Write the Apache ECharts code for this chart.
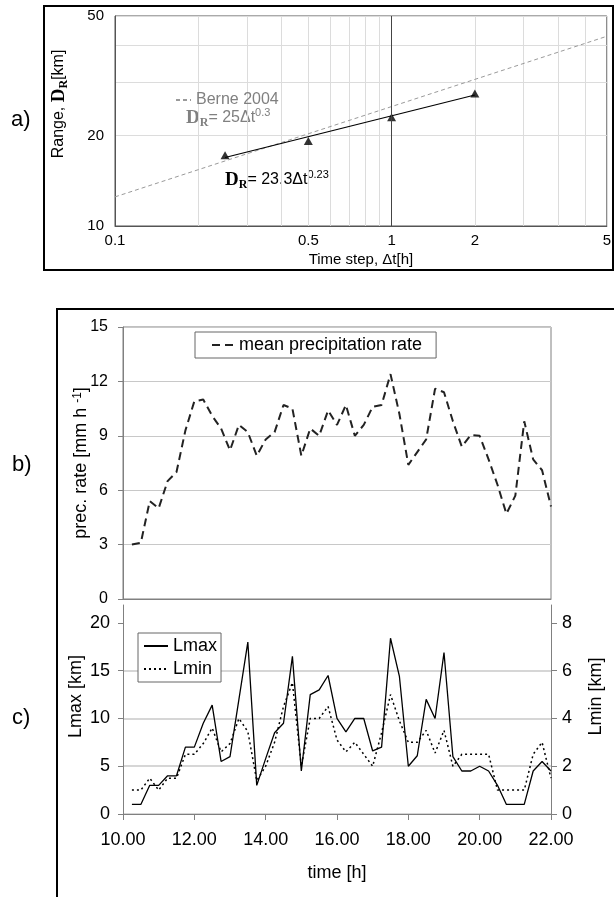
<!DOCTYPE html>
<html><head><meta charset="utf-8">
<script src="https://cdn.jsdelivr.net/npm/echarts@6/dist/echarts.min.js"></script>
<style>html,body{margin:0;padding:0;background:#fff}#c{width:614px;height:897px}</style>
</head><body><div id="c"></div>
<script>
// ---------- Panel a: range vs time step (log-log) ----------
const stepHours = [0.25, 0.5, 1, 2];
const rangeKm = [17.2, 19.2, 23.0, 27.6];
const fitStep = [0.25, 2];
const fitRange = [16.9, 27.3];
const berneStep = [0.1, 6];
const berneRange = [12.5, 42.8];
const aXTickValues = [0.1, 0.2, 0.3, 0.4, 0.5, 0.6, 0.7, 0.8, 0.9, 1, 2, 3, 4, 5, 6];
const aXLabelValues = [0.1, 0.5, 1, 2, 6];
const aXLabelTexts = ['0.1', '0.5', '1', '2', '5'];
const aYTickValues = [10, 20, 30, 40, 50];
const aYLabelValues = [10, 20, 50];

// ---------- Panels b, c: time series ----------
const times = [10.25, 10.5, 10.75, 11, 11.25, 11.5, 11.75, 12, 12.25, 12.5, 12.75, 13,
  13.25, 13.5, 13.75, 14, 14.25, 14.5, 14.75, 15, 15.25, 15.5, 15.75, 16,
  16.25, 16.5, 16.75, 17, 17.25, 17.5, 17.75, 18, 18.25, 18.5, 18.75, 19,
  19.25, 19.5, 19.75, 20, 20.25, 20.5, 20.75, 21, 21.25, 21.5, 21.75, 22];
const precipRate = [3.0, 3.1, 5.4, 5.0, 6.5, 7.0, 9.3, 10.9, 11.0, 10.1, 9.4, 8.2,
  9.6, 9.2, 7.9, 8.8, 9.2, 10.7, 10.5, 7.9, 9.4, 9.0, 10.4, 9.6,
  10.7, 9.0, 9.6, 10.6, 10.7, 12.4, 10.2, 7.4, 8.1, 8.8, 11.6, 11.4,
  9.8, 8.4, 9.05, 9.0, 7.7, 6.3, 4.7, 5.7, 9.8, 7.7, 7.1, 5.1];
const lmax = [1, 1, 3, 3, 4, 4, 7, 7, 9.5, 11.4, 5.5, 6,
  12, 18, 3, 5.8, 8.5, 9.5, 16.5, 4.5, 12.5, 13, 14.5, 10,
  8.6, 10, 10, 6.6, 7, 18.4, 14.4, 5, 6.1, 12, 10, 16.9,
  6, 4.5, 4.5, 5, 4.5, 3, 1, 1, 1, 4.5, 5.5, 4.5];
const lmin = [1, 1, 1.5, 1, 1.5, 1.5, 2.5, 2.5, 2.95, 3.6, 2.6, 2.95,
  4, 3.45, 1.4, 2, 3, 4.5, 5.5, 2, 4, 4, 4.5, 3.1,
  2.6, 3, 2.5, 2, 3.4, 5, 3.9, 3, 3, 3.5, 2.55, 3.5,
  2, 2.5, 2.5, 2.5, 2.5, 1, 1, 1, 1, 2.5, 3, 1.5];
const lmaxTicks = [0, 5, 10, 15, 20];
const lminTicks = [0, 2, 4, 6, 8];

const SANS = "'Liberation Sans', Arial, sans-serif";
const SERIF = "'Liberation Serif', 'Times New Roman', serif";

const chart = echarts.init(document.getElementById('c'), null, {renderer: 'canvas'});

const formulaRich = (col) => ({
  D: {fontFamily: SERIF, fontWeight: 'bold', fontSize: 19, fill: col, color: col, lineHeight: 22, verticalAlign: 'middle'},
  R: {fontFamily: SERIF, fontWeight: 'bold', fontSize: 12, fill: col, color: col, verticalAlign: 'bottom', lineHeight: 14},
  t: {fontFamily: SANS, fontSize: 16, fill: col, color: col, lineHeight: 22, verticalAlign: 'middle'},
  s: {fontFamily: SANS, fontSize: 11, fill: col, color: col, verticalAlign: 'top', lineHeight: 11}
});
const noSymbol = {color: 'rgba(0,0,0,0)', borderColor: 'rgba(0,0,0,0)', borderWidth: 0, opacity: 0};

const option = {
  animation: false,
  backgroundColor: '#fff',
  textStyle: {fontFamily: SANS},
  grid: [
    {left: 115, top: 16, width: 492, height: 210, show: true, borderColor: '#555', borderWidth: 1},
    {left: 123, top: 327, width: 428, height: 272, show: true, borderColor: '#808080', borderWidth: 1},
    {left: 123, top: 605, width: 428, height: 209}
  ],
  legend: [
    {data: ['Berne 2004'], left: 175, top: 92, itemWidth: 15, itemHeight: 10, itemGap: 4,
      itemStyle: noSymbol,
      textStyle: {color: '#808080', fontSize: 16, fontFamily: SANS}, padding: 0},
    {data: ['mean precipitation rate'], left: 195, top: 332, itemWidth: 22, itemHeight: 10, itemGap: 5,
      itemStyle: noSymbol,
      borderColor: '#666', borderWidth: 1, backgroundColor: '#fff', padding: [4, 14, 4, 16],
      textStyle: {color: '#000', fontSize: 18, fontFamily: SANS}},
    {data: ['Lmax', 'Lmin'], orient: 'vertical', left: 138, top: 633, itemWidth: 24, itemHeight: 14, itemGap: 5,
      itemStyle: noSymbol,
      borderColor: '#666', borderWidth: 1, backgroundColor: '#fff', padding: [4, 4, 4, 5],
      textStyle: {color: '#000', fontSize: 18, fontFamily: SANS}}
  ],
  xAxis: [
    {type: 'log', gridIndex: 0, min: 0.1, max: 6,
      axisLine: {show: true, lineStyle: {color: '#555'}},
      axisTick: {show: false, customValues: aXTickValues},
      splitLine: {show: true, lineStyle: {color: '#dcdcdc', width: 1}},
      axisLabel: {customValues: aXLabelValues, margin: 7, fontSize: 15, color: '#000', fontFamily: SANS,
        formatter: (v) => { const i = aXLabelValues.findIndex(x => Math.abs(x - v) < 1e-6); return i >= 0 ? aXLabelTexts[i] : ''; }},
      name: 'Time step, Δt[h]', nameLocation: 'middle', nameGap: 26, nameMoveOverlap: false,
      nameTextStyle: {fontSize: 15, color: '#000', fontFamily: SANS}},
    {type: 'value', gridIndex: 1, min: 10, max: 22, interval: 2,
      axisLine: {show: true, lineStyle: {color: '#808080'}}, axisTick: {show: false},
      axisLabel: {show: false}, splitLine: {show: false}},
    {type: 'value', gridIndex: 2, min: 10, max: 22, interval: 2,
      axisLine: {show: true, lineStyle: {color: '#808080'}},
      axisTick: {show: true, length: 6, lineStyle: {color: '#808080'}},
      axisLabel: {fontSize: 18, color: '#000', margin: 17, fontFamily: SANS, formatter: (v) => v.toFixed(2)},
      splitLine: {show: false},
      name: 'time [h]', nameLocation: 'middle', nameGap: 50, nameMoveOverlap: false,
      nameTextStyle: {fontSize: 18, color: '#000', fontFamily: SANS}}
  ],
  yAxis: [
    {type: 'log', gridIndex: 0, min: 10, max: 50,
      axisLine: {show: true, lineStyle: {color: '#555'}},
      axisTick: {show: false, customValues: aYTickValues},
      splitLine: {show: true, lineStyle: {color: '#dcdcdc'}},
      axisLabel: {customValues: aYLabelValues, margin: 11, fontSize: 15, color: '#000', fontFamily: SANS},
      name: '{t|Range, }{D|D}{R|R}{t|[km]}', nameLocation: 'middle', nameGap: 45, nameRotate: 90, nameMoveOverlap: false,
      nameTextStyle: {padding: [0, 0, 0, 34], rich: formulaRich('#000')}},
    {type: 'value', gridIndex: 1, min: 0, max: 15, interval: 3,
      axisLine: {show: true, lineStyle: {color: '#808080'}},
      axisTick: {show: true, length: 5, lineStyle: {color: '#808080'}},
      splitLine: {show: true, lineStyle: {color: '#c8c8c8'}},
      axisLabel: {fontSize: 16, color: '#000', margin: 15, fontFamily: SANS},
      name: 'prec. rate [mm h {s|-1}]', nameLocation: 'middle', nameGap: 33, nameRotate: 90, nameMoveOverlap: false,
      nameTextStyle: {fontSize: 18, color: '#000', fontFamily: SANS,
        rich: {s: {fontSize: 12, verticalAlign: 'top', fontFamily: SANS, color: '#000'}}}},
    {type: 'value', gridIndex: 2, min: 0, max: 21.88,
      axisLine: {show: true, lineStyle: {color: '#808080'}},
      axisTick: {show: true, length: 5, customValues: lmaxTicks, lineStyle: {color: '#808080'}},
      splitLine: {show: true, showMaxLine: false, lineStyle: {color: '#c8c8c8', width: 1.5}},
      axisLabel: {customValues: lmaxTicks, fontSize: 18, color: '#000', margin: 13, fontFamily: SANS},
      name: 'Lmax [km]', nameLocation: 'middle', nameGap: 38, nameRotate: 90, nameMoveOverlap: false,
      nameTextStyle: {fontSize: 18, color: '#000', fontFamily: SANS, padding: [0, 0, 0, 26]}},
    {type: 'value', gridIndex: 2, min: 0, max: 8.75, position: 'right',
      axisLine: {show: true, lineStyle: {color: '#808080'}},
      axisTick: {show: true, length: 6, customValues: lminTicks, lineStyle: {color: '#808080'}},
      splitLine: {show: false},
      axisLabel: {customValues: lminTicks, fontSize: 18, color: '#000', margin: 11, fontFamily: SANS},
      name: 'Lmin [km]', nameLocation: 'middle', nameGap: 36, nameRotate: 90, nameMoveOverlap: false,
      nameTextStyle: {fontSize: 18, color: '#000', fontFamily: SANS, padding: [0, 0, 0, 26]}}
  ],
  series: [
    {name: 'Berne 2004', type: 'line', xAxisIndex: 0, yAxisIndex: 0, symbol: 'none', silent: true,
      data: berneStep.map((t, i) => [t, berneRange[i]]),
      lineStyle: {color: '#9a9a9a', width: 1, type: [4, 3]}, itemStyle: {color: '#9a9a9a'}},
    {name: 'fit', type: 'line', xAxisIndex: 0, yAxisIndex: 0, symbol: 'none', silent: true,
      data: fitStep.map((t, i) => [t, fitRange[i]]),
      lineStyle: {color: '#000', width: 1.2},
      markLine: {silent: true, symbol: 'none', label: {show: false},
        lineStyle: {color: '#444', width: 1, type: 'solid'}, data: [{xAxis: 1}]}},
    {name: 'observed', type: 'scatter', xAxisIndex: 0, yAxisIndex: 0, symbol: 'triangle', symbolSize: [9, 8],
      data: stepHours.map((t, i) => [t, rangeKm[i]]), itemStyle: {color: '#000'}},
    {name: 'mean precipitation rate', type: 'line', xAxisIndex: 1, yAxisIndex: 1, symbol: 'none',
      data: times.map((t, i) => [t, precipRate[i]]),
      lineStyle: {color: '#222', width: 2, type: [8, 5]}, itemStyle: {color: '#222'}},
    {name: 'Lmax', type: 'line', xAxisIndex: 2, yAxisIndex: 2, symbol: 'none',
      data: times.map((t, i) => [t, lmax[i]]),
      lineStyle: {color: '#000', width: 1.3}, itemStyle: {color: '#000'}},
    {name: 'Lmin', type: 'line', xAxisIndex: 2, yAxisIndex: 3, symbol: 'none',
      data: times.map((t, i) => [t, lmin[i]]),
      lineStyle: {color: '#000', width: 1.5, type: [2, 3]}, itemStyle: {color: '#000'}}
  ],
  graphic: [
    {type: 'rect', shape: {x: 44, y: 6, width: 569, height: 264}, style: {fill: 'none', stroke: '#000', lineWidth: 2}, silent: true},
    {type: 'polyline', shape: {points: [[57, 900], [57, 309], [620, 309]]}, style: {fill: 'none', stroke: '#000', lineWidth: 2}, silent: true},
    {type: 'text', left: 11, top: 109, style: {text: 'a)', fontSize: 22, fontFamily: SANS, fill: '#000'}},
    {type: 'text', left: 12, top: 454, style: {text: 'b)', fontSize: 22, fontFamily: SANS, fill: '#000'}},
    {type: 'text', left: 12, top: 707, style: {text: 'c)', fontSize: 22, fontFamily: SANS, fill: '#000'}},
    {type: 'text', left: 186, top: 107, style: {text: '{D|D}{R|R}{t|= 25Δt}{s|0.3}', rich: formulaRich('#808080')}},
    {type: 'text', left: 225, top: 169, style: {text: '{D|D}{R|R}{t|= 23.3Δt}{s|0.23}', rich: formulaRich('#000')}}
  ]
};
chart.setOption(option);
</script></body></html>
